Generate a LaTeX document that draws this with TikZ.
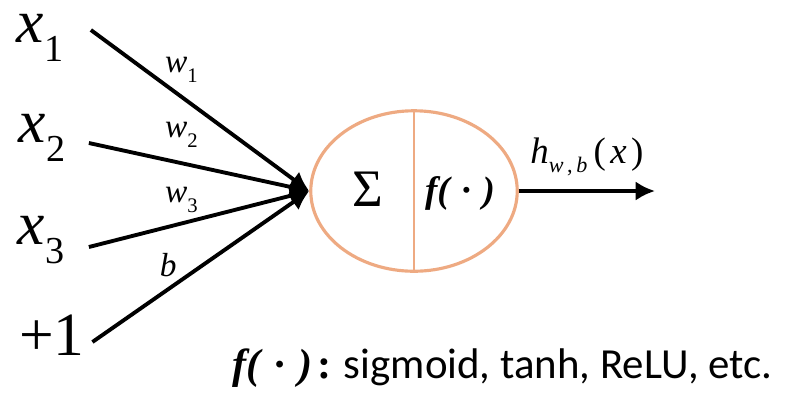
\documentclass[tikz,border=0pt]{standalone}
\usepackage{fontspec}
\setmainfont{Liberation Serif}
\setsansfont{Carlito}
\usetikzlibrary{shapes.geometric,positioning,arrows.meta}

\definecolor{cellorange}{RGB}{238,170,130}

% italic letter with a lowered upright index
\newcommand{\insub}[2]{\textit{#1}\raisebox{-0.3em}{\scalebox{0.62}{#2}}}
% the activation f( . )
\newcommand{\actf}{f(\hspace{0.32em}·\hspace{0.32em})}

\tikzset{
    input/.style={inner sep=0pt, font=\fontsize{35}{40}\selectfont},
    weight/.style={inner sep=1pt, font=\fontsize{19}{22}\selectfont},
    edge/.style={->, line width=2.2pt},
}

\begin{document}
\begin{tikzpicture}[x=0.02cm, y=-0.02cm, >={Latex[length=11pt,width=11pt]}, thick]
    \useasboundingbox (0,0) rectangle (786,393);

    % Neuron cell
    \node[ellipse, draw=cellorange, line width=1.8pt, minimum width=4.13cm, minimum height=3.21cm] (neuron) at (414,191) {};
    \draw[cellorange, line width=0.6pt] (neuron.north) -- (neuron.south);
    \node[font=\fontsize{30}{34}\selectfont] (sum) at (368,189) {Σ};
    \node[font=\fontsize{21}{24}\selectfont\bfseries\itshape] (act) at (460,193) {\actf};

    % Inputs
    \node[input] (x1) at (40,38) {\insub{x}{1}};
    \node[input] (x2) at (42,138) {\insub{x}{2}};
    \node[input] (x3) at (41,240) {\insub{x}{3}};
    \node[input] (bias) at (52,335) {+1};

    % Weighted connections
    \draw[edge] ([shift={(27,-8)}]x1.east) -- node[weight, pos=0.415, above=6pt] {\insub{w}{1}} (neuron.west);
    \draw[edge] ([shift={(23,5)}]x2.east) -- node[weight, pos=0.42, above=7pt] {\insub{w}{2}} (neuron.west);
    \draw[edge] ([shift={(24,7)}]x3.east) -- node[weight, pos=0.42, above=3.8pt] {\insub{w}{3}} (neuron.west);
    \draw[edge] ([shift={(7,7)}]bias.east) -- node[weight, pos=0.35, above=5pt] {\textit{b}} (neuron.west);

    % Output
    \coordinate (out) at (655,191);
    \draw[->, line width=2.6pt] (neuron.east) -- node[above=4pt, font=\fontsize{21}{24}\selectfont] {\textit{h}\raisebox{-0.25em}{\scalebox{0.6}{\textit{w}\,,\,\textit{b}}}\,(\hspace{0.12em}\textit{x}\hspace{0.12em})} (out);

    % Activation functions
    \node[anchor=base west, inner sep=0pt] (legend) at (232,378) {{\fontsize{24}{28}\selectfont\bfseries\itshape \actf}\hspace{0.3em}{\fontsize{24}{28}\selectfont\bfseries :}\hspace{7pt}{\sffamily\fontsize{24.4}{28}\selectfont sigmoid, tanh, ReLU, etc.}};
\end{tikzpicture}
\end{document}
